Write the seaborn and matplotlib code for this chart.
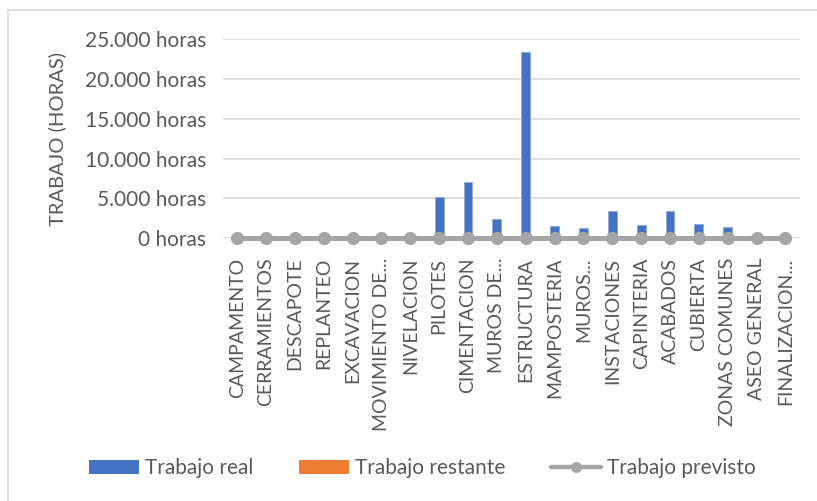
import matplotlib
matplotlib.use("Agg")
import matplotlib.pyplot as plt
from matplotlib.patches import Rectangle
from matplotlib.lines import Line2D
from matplotlib.ticker import FuncFormatter
import numpy as np
import pandas as pd
import seaborn as sns

categorias = [
    "CAMPAMENTO", "CERRAMIENTOS", "DESCAPOTE", "REPLANTEO", "EXCAVACION",
    "MOVIMIENTO DE...", "NIVELACION", "PILOTES", "CIMENTACION", "MUROS DE...",
    "ESTRUCTURA", "MAMPOSTERIA", "MUROS...", "INSTACIONES", "CAPINTERIA",
    "ACABADOS", "CUBIERTA", "ZONAS COMUNES", "ASEO GENERAL", "FINALIZACION...",
]
trabajo_real = [0, 0, 0, 0, 0, 0, 0, 5230, 7040, 2430, 23370, 1550, 1260,
                3470, 1670, 3390, 1760, 1420, 0, 0]
trabajo_restante = [0] * 20
trabajo_previsto = [0] * 20
y_ticks = [0, 5000, 10000, 15000, 20000, 25000]

AZUL = "#4472C4"
NARANJA = "#ED7D31"
GRIS = "#A5A5A5"
TEXTO = "#595959"
REJILLA = "#D9D9D9"

sns.set_theme(style="white")
plt.rcParams["font.family"] = ["Lato", "DejaVu Sans"]

df = pd.DataFrame({
    "tarea": categorias,
    "real": trabajo_real,
    "restante": trabajo_restante,
    "previsto": trabajo_previsto,
})
df["pos"] = np.arange(len(df))

fig = plt.figure(figsize=(8.17, 5.01), dpi=100)
ax = fig.add_axes([0.2726, 0.5244, 0.979 - 0.2726, 0.922 - 0.5244])

# marco exterior del gráfico
fig.patches.append(Rectangle((8 / 817, -0.1), 1.2, 1 - 10 / 501 + 0.1,
                             transform=fig.transFigure, fill=False,
                             edgecolor=REJILLA, linewidth=1.2, zorder=0))

sns.barplot(data=df, x="tarea", y="real", color=AZUL, width=0.31,
            edgecolor="#8FAADC", linewidth=0.6, saturation=1, ax=ax, zorder=2)
sns.barplot(data=df, x="tarea", y="restante", color=NARANJA, width=0.31,
            saturation=1, linewidth=0, ax=ax, zorder=2)
sns.lineplot(data=df, x="pos", y="previsto", color=GRIS, linewidth=3.6,
             marker="o", markersize=9.5, markeredgewidth=0, ax=ax, zorder=3,
             clip_on=False)

ax.set_xlim(-0.5, len(categorias) - 0.5)
ax.set_ylim(0, 25000)
ax.set_yticks(y_ticks)
ax.yaxis.set_major_formatter(FuncFormatter(
    lambda v, _: f"{int(v):,} horas".replace(",", ".")))
ax.grid(axis="y", color=REJILLA, linewidth=1.2)
ax.set_axisbelow(True)
for s in ax.spines.values():
    s.set_visible(False)

ax.set_xticks(range(len(categorias)))
ax.set_xticklabels(categorias, rotation=90, va="top", ha="center")
ax.tick_params(axis="x", length=0, pad=14, labelsize=14, labelcolor=TEXTO)
ax.tick_params(axis="y", length=0, pad=12, labelsize=15, labelcolor=TEXTO)
ax.set_xlabel("")
ax.set_ylabel("TRABAJO (HORAS)", fontsize=14.5, color=TEXTO)
ax.yaxis.set_label_coords(-0.272, 0.5)

handles = [
    Rectangle((0, 0), 1, 1, facecolor=AZUL, edgecolor="none"),
    Rectangle((0, 0), 1, 1, facecolor=NARANJA, edgecolor="none"),
    Line2D([0], [0], color=GRIS, linewidth=3.2, marker="o", markersize=8,
           markeredgewidth=0),
]
fig.legend(handles, ["Trabajo real", "Trabajo restante", "Trabajo previsto"],
           loc="center", bbox_to_anchor=(0.517, 1 - 468.5 / 501), ncol=3,
           frameon=False, fontsize=15, labelcolor=TEXTO, handlelength=2.4,
           handleheight=0.63, handletextpad=0.29, columnspacing=2.2)

fig.savefig("out.png", dpi=100, facecolor="white")
